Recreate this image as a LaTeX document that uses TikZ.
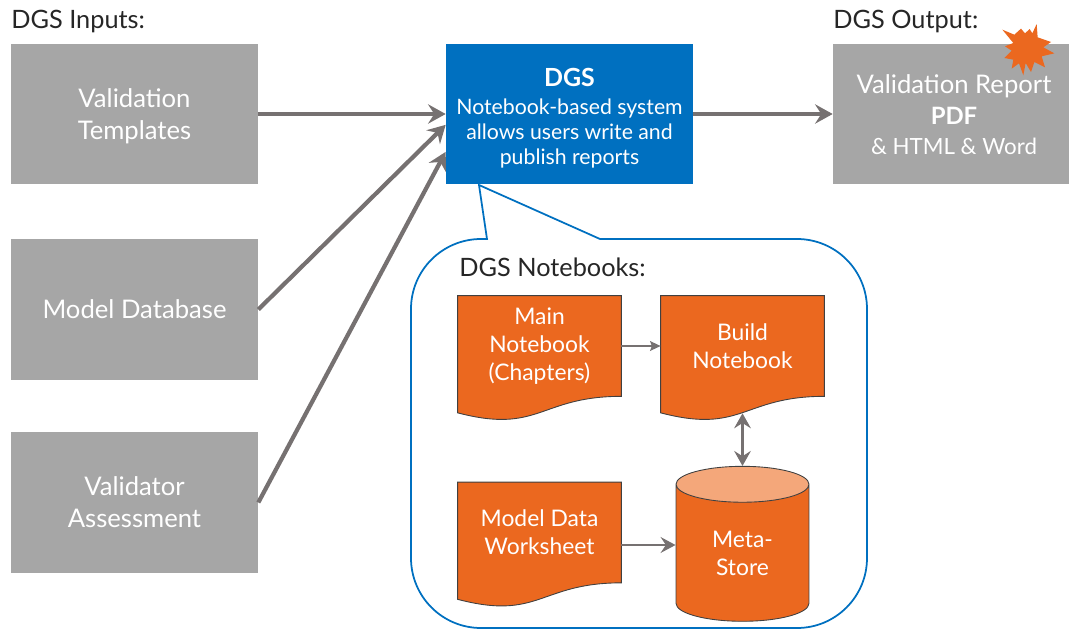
\documentclass[tikz,border=0pt]{standalone}
\usepackage{fontspec}
\setmainfont{Lato}
\usetikzlibrary{arrows.meta, calc, backgrounds, shapes.geometric}
\definecolor{boxgray}{HTML}{A6A6A6}
\definecolor{dgsblue}{HTML}{0070C0}
\definecolor{nborange}{HTML}{EB681F}
\definecolor{nblight}{HTML}{F4A77A}
\definecolor{arrowgray}{HTML}{767171}
\newcommand{\sizeL}{\fontsize{14.6}{18.2}\selectfont}
\newcommand{\sizeM}{\fontsize{13}{16}\selectfont}
\newcommand{\sizeS}{\fontsize{12.1}{14.2}\selectfont}
\tikzset{
    graybox/.style={fill=boxgray, text=white, minimum width=4.94cm, minimum height=2.82cm, inner sep=0pt, align=center, font=\sizeL},
    heading/.style={anchor=west, inner sep=0pt, text=black!85, font=\fontsize{14.4}{18}\selectfont},
    notebook/.style={text=white, minimum width=3.26cm, minimum height=2cm, inner sep=0pt, align=center, font=\sizeM},
    nbshape/.style={fill=nborange, draw=black!75, line width=0.5pt},
    bigarrow/.style={draw=arrowgray, line width=2.4pt, -{Stealth[length=10pt, width=11pt, inset=3.5pt]}},
    midarrow/.style={draw=arrowgray, line width=1.5pt, -{Stealth[length=8.5pt, width=9pt, inset=3pt]}},
    thinarrow/.style={draw=arrowgray, line width=1.1pt, -{Stealth[length=6pt, width=5.5pt, inset=1pt]}},
    twoarrow/.style={draw=arrowgray, line width=1.5pt, {Stealth[length=8.5pt, width=9.5pt, inset=3pt]}-{Stealth[length=8.5pt, width=9.5pt, inset=3pt]}},
}
\newcommand{\drawnotebook}[1]{
    \begin{scope}[on background layer]
        \draw[nbshape] (#1.north west) -- (#1.north east) -- (#1.south east)
            .. controls (#1.south) and ($(#1.south)+(0,38)$) .. ($(#1.south west)+(0,16.5)$) -- cycle;
    \end{scope}
}
\begin{document}
\begin{tikzpicture}[x=0.02cm, y=-0.02cm]
    \useasboundingbox (0,0) rectangle (1069,629);
    \node[heading] (inputs) at (11,22) {DGS Inputs:};
    \node[heading] (output) at (833,22) {DGS Output:};
    \node[graybox] (templates) at (134.5,114) {\rule{0pt}{13pt}Validation\\Templates};
    \node[graybox] (database) at (134.5,309.5) {Model Database};
    \node[graybox] (validator) at (134.5,502.5) {Validator\\Assessment};
    \node[fill=dgsblue, text=white, minimum width=4.94cm, minimum height=2.8cm, inner sep=0pt, align=center, font=\sizeS] (dgs) at (569.5,114) {\rule{0pt}{15pt}\textbf{\fontsize{14.2}{16}\selectfont DGS}\\[1.7pt]Notebook-based system\\allows users write and\\publish reports};
    \node[graybox, minimum width=4.84cm, minimum height=2.8cm] (report) at (954,114) {\rule{0pt}{11.5pt}Validation Report\\[-0.5pt]\textbf{\fontsize{13.6}{16}\selectfont PDF}\\[-1.5pt]{\fontsize{12.7}{15}\selectfont \& HTML \& Word}};
    \begin{scope}[shift={(995,18)}, x=0.00667cm, y=-0.00667cm]
        \fill[nborange] (22,35) -- (58,50) -- (78,32) -- (90,46) -- (104,33) -- (112,46) -- (125,18) -- (128,58) -- (168,72) -- (145,88) -- (178,106) -- (140,115) -- (150,148) -- (118,132) -- (108,162) -- (92,135) -- (85,172) -- (72,136) -- (50,152) -- (55,125) -- (28,120) -- (50,98) -- (30,85) -- (55,75) -- cycle;
    \end{scope}
    \draw[bigarrow] (templates.east) -- (dgs.west);
    \draw[bigarrow] (database.east) -- (dgs.185);
    \draw[bigarrow] (validator.east) -- (dgs.197);
    \draw[bigarrow] (dgs.east) -- (report.west);
    \draw[dgsblue, line width=1pt] (479,185) -- (600,239) [rounded corners=1.4cm] -- (867,239) -- (867,628) -- (411,628) -- (411,239) [sharp corners] -- (487,239) -- cycle;
    \node[heading] (notebooks) at (459,267) {DGS Notebooks:};
    \node[notebook] (main) at (539.5,346) {Main\\Notebook\\(Chapters)};
    \drawnotebook{main}
    \node[notebook] (build) at (742.5,346) {Build\\Notebook};
    \drawnotebook{build}
    \node[notebook] (worksheet) at (539.5,532.5) {Model Data\\Worksheet};
    \drawnotebook{worksheet}
    \node[cylinder, shape border rotate=90, aspect=0.59, draw=black!75, line width=0.5pt, cylinder uses custom fill, cylinder body fill=nborange, cylinder end fill=nblight, text=white, minimum width=2.66cm, minimum height=3.1cm, inner sep=0pt, align=center, font=\sizeM] (meta) at (742.5,553) {Meta-\\Store};
    \coordinate (metaleft) at ($(meta.west)+(0,-8)$);
    \draw[thinarrow] (main.east) -- (build.west);
    \draw[midarrow] (worksheet.east |- metaleft) -- (metaleft);
    \draw[twoarrow] ($(build.south)+(0,17)$) -- (meta.north);
\end{tikzpicture}
\end{document}
